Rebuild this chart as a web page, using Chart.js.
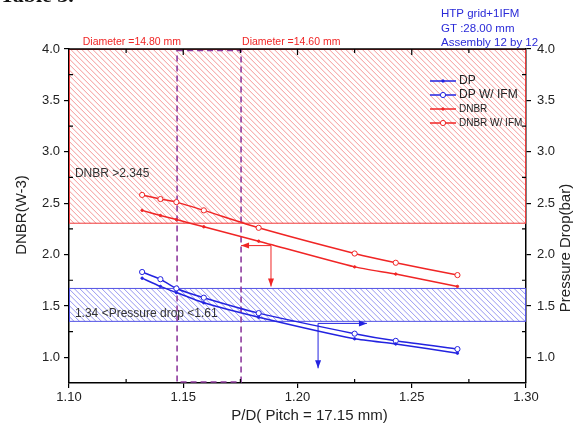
<!DOCTYPE html>
<html>
<head>
<meta charset="utf-8">
<script src="https://cdn.jsdelivr.net/npm/chart.js@4.4.1/dist/chart.umd.min.js"></script>
<style>
    html, body { margin: 0; padding: 0; background: #fff; }
    #wrap { position: relative; width: 579px; height: 428px; overflow: hidden; }
    #cut { position: absolute; left: 0; top: -18px; font: bold 22px "Liberation Serif", serif; color: #111; }
</style>
</head>
<body>
<div id="wrap">
    <canvas id="chart" width="579" height="428"></canvas>
    <div id="cut">Table 3.</div>
</div>
<script>
// P/D values (x) and the four series
const pitchRatio = [1.132, 1.140, 1.147, 1.159, 1.183, 1.225, 1.243, 1.270];
const dp = [1.77, 1.69, 1.63, 1.53, 1.39, 1.18, 1.13, 1.04];
const dpIfm = [1.83, 1.76, 1.67, 1.58, 1.43, 1.23, 1.16, 1.08];
const dnbr = [2.43, 2.38, 2.34, 2.27, 2.13, 1.88, 1.81, 1.69];
const dnbrIfm = [2.58, 2.54, 2.51, 2.43, 2.26, 2.01, 1.92, 1.80];

const seriesNames = ['DP', 'DP W/ IFM', 'DNBR', 'DNBR W/ IFM'];

// hatched limit bands [low, high]
const dnbrBand = [2.30, 4.0];
const dpBand = [1.345, 1.675];

// dashed diameter window (P/D)
const diameterWindow = [1.1473, 1.1753];
const diameterLabels = ['Diameter =14.80 mm', 'Diameter =14.60 mm'];

// arrows: [x0, y0, x1, y1, axis]
const redArrows = [[1.1884, 2.087, 1.1753, 2.087, 'y'], [1.1884, 2.087, 1.1884, 1.689, 'y']];
const blueArrows = [[1.209, 1.330, 1.2304, 1.330, 'y1'], [1.209, 1.330, 1.209, 0.893, 'y1']];

const infoLines = ['HTP grid+1IFM', 'GT :28.00 mm', 'Assembly 12 by 12'];

const xMinor = [1.125, 1.175, 1.225, 1.275];
const yMinor = [1.25, 1.75, 2.25, 2.75, 3.25, 3.75];
const xMajor = [1.15, 1.20, 1.25];

const BLUE = '#2323e0';
const RED = '#f02525';
const PURPLE = '#8e3a9e';

Chart.defaults.font.family = '"Liberation Sans", Arial, sans-serif';

const toPoints = (ys) => ys.map((v, i) => ({ x: pitchRatio[i], y: v }));

function hatchBand(ctx, area, scale, band, lineColor, edgeColor) {
    const top = scale.getPixelForValue(band[1]);
    const bottom = scale.getPixelForValue(band[0]);
    const h = bottom - top;
    ctx.save();
    ctx.beginPath();
    ctx.rect(area.left, top, area.width, h);
    ctx.clip();
    ctx.strokeStyle = lineColor;
    ctx.lineWidth = 0.9;
    ctx.beginPath();
    for (let k = area.left - h; k < area.right; k += 5.5) {
        ctx.moveTo(k, top);
        ctx.lineTo(k + h, bottom);
    }
    ctx.stroke();
    ctx.restore();
    ctx.save();
    ctx.strokeStyle = edgeColor;
    ctx.lineWidth = 1;
    ctx.strokeRect(area.left + 0.5, top + 0.5, area.width - 1, h - 1);
    ctx.restore();
}

function arrow(ctx, chart, a, color) {
    const xs = chart.scales.x, ys = chart.scales[a[4]];
    const x0 = xs.getPixelForValue(a[0]), y0 = ys.getPixelForValue(a[1]);
    const x1 = xs.getPixelForValue(a[2]), y1 = ys.getPixelForValue(a[3]);
    const ang = Math.atan2(y1 - y0, x1 - x0);
    ctx.save();
    ctx.strokeStyle = color;
    ctx.fillStyle = color;
    ctx.lineWidth = 1;
    ctx.beginPath();
    ctx.moveTo(x0, y0);
    ctx.lineTo(x1, y1);
    ctx.stroke();
    ctx.translate(x1, y1);
    ctx.rotate(ang);
    ctx.beginPath();
    ctx.moveTo(0, 0);
    ctx.lineTo(-8, -3);
    ctx.lineTo(-8, 3);
    ctx.closePath();
    ctx.fill();
    ctx.restore();
}

const decor = {
    id: 'decor',
    beforeDatasetsDraw(chart) {
        const { ctx, chartArea: a, scales: { x, y, y1 } } = chart;
        hatchBand(ctx, a, y, dnbrBand, '#f48c8c', '#f03a3a');
        hatchBand(ctx, a, y1, dpBand, '#8a8aee', '#5252e4');

        // purple dashed window
        const xl = x.getPixelForValue(diameterWindow[0]);
        const xr = x.getPixelForValue(diameterWindow[1]);
        ctx.save();
        ctx.strokeStyle = PURPLE;
        ctx.lineWidth = 1.6;
        ctx.setLineDash([6, 4]);
        ctx.strokeRect(xl, a.top + 1.5, xr - xl, a.bottom - a.top - 2.5);
        ctx.restore();

        // region texts
        ctx.save();
        ctx.fillStyle = '#333';
        ctx.font = '12px "Liberation Sans", Arial, sans-serif';
        ctx.textBaseline = 'middle';
        ctx.fillText('DNBR >2.345', x.getPixelForValue(1.1026), y.getPixelForValue(2.786));
        ctx.fillText('1.34 <Pressure drop <1.61', x.getPixelForValue(1.1026), y1.getPixelForValue(1.427));
        ctx.restore();
    },
    afterDatasetsDraw(chart) {
        const { ctx, chartArea: a, scales: { x, y } } = chart;
        redArrows.forEach((r) => arrow(ctx, chart, r, RED));
        blueArrows.forEach((b) => arrow(ctx, chart, b, BLUE));

        // legend inside plot
        ctx.save();
        const lx = a.right - 96;
        chart.data.datasets.forEach((ds, i) => {
            const ly = a.top + 32 + i * 14;
            ctx.strokeStyle = ds.borderColor;
            ctx.lineWidth = 1.5;
            ctx.beginPath();
            ctx.moveTo(lx, ly);
            ctx.lineTo(lx + 26, ly);
            ctx.stroke();
            ctx.beginPath();
            ctx.arc(lx + 13, ly, ds.pointRadius, 0, Math.PI * 2);
            ctx.fillStyle = ds.pointBackgroundColor;
            ctx.fill();
            ctx.lineWidth = 1;
            ctx.stroke();
            ctx.fillStyle = '#222';
            ctx.font = (i < 2 ? '12px' : '10px') + ' "Liberation Sans", Arial, sans-serif';
            ctx.textBaseline = 'middle';
            ctx.fillText(ds.label, lx + 29, ly);
        });
        ctx.restore();

        // frame top and minor ticks
        ctx.save();
        ctx.strokeStyle = '#000';
        ctx.lineWidth = 1.5;
        ctx.beginPath();
        ctx.moveTo(a.left, a.top);
        ctx.lineTo(a.right, a.top);
        ctx.stroke();
        ctx.lineWidth = 1.2;
        ctx.beginPath();
        xMinor.forEach((v) => {
            const px = x.getPixelForValue(v);
            ctx.moveTo(px, a.bottom); ctx.lineTo(px, a.bottom - 4);
            ctx.moveTo(px, a.top); ctx.lineTo(px, a.top + 4);
        });
        xMajor.forEach((v) => {
            const px = x.getPixelForValue(v);
            ctx.moveTo(px, a.top); ctx.lineTo(px, a.top + 6);
        });
        yMinor.forEach((v) => {
            const py = y.getPixelForValue(v);
            ctx.moveTo(a.left, py); ctx.lineTo(a.left + 4, py);
            ctx.moveTo(a.right, py); ctx.lineTo(a.right - 4, py);
        });
        ctx.stroke();
        ctx.restore();

        // texts outside plot
        ctx.save();
        ctx.fillStyle = RED;
        ctx.font = '10.5px "Liberation Sans", Arial, sans-serif';
        ctx.textBaseline = 'middle';
        ctx.textAlign = 'right';
        ctx.fillText(diameterLabels[0], x.getPixelForValue(diameterWindow[0]) + 4, a.top - 7);
        ctx.textAlign = 'left';
        ctx.fillText(diameterLabels[1], x.getPixelForValue(diameterWindow[1]) + 1, a.top - 7);
        ctx.fillStyle = '#2a2ad8';
        ctx.font = '11.5px "Liberation Sans", Arial, sans-serif';
        infoLines.forEach((t, i) => ctx.fillText(t, 441, 14 + i * 14.5));

        ctx.fillStyle = '#222';
        ctx.font = '15px "Liberation Sans", Arial, sans-serif';
        ctx.textAlign = 'center';
        ctx.fillText('P/D( Pitch = 17.15 mm)', (a.left + a.right) / 2 + 12, 416);
        ctx.save();
        ctx.translate(22, 215);
        ctx.rotate(-Math.PI / 2);
        ctx.fillText('DNBR(W-3)', 0, 0);
        ctx.restore();
        ctx.save();
        ctx.translate(566, 248);
        ctx.rotate(-Math.PI / 2);
        ctx.fillText('Pressure Drop(bar)', 0, 0);
        ctx.restore();
        ctx.restore();
    },
};

const axisGrid = { drawOnChartArea: false, color: '#000', tickLength: 5, lineWidth: 1.2 };
const axisBorder = { color: '#000', width: 1.5 };
const tickFont = { size: 13 };

new Chart(document.getElementById('chart'), {
    type: 'line',
    data: {
        datasets: [
            { label: seriesNames[0], data: toPoints(dp), yAxisID: 'y1', borderColor: BLUE, pointBackgroundColor: BLUE, pointRadius: 1.2 },
            { label: seriesNames[1], data: toPoints(dpIfm), yAxisID: 'y1', borderColor: BLUE, pointBackgroundColor: '#fff', pointRadius: 2.6 },
            { label: seriesNames[2], data: toPoints(dnbr), yAxisID: 'y', borderColor: RED, pointBackgroundColor: RED, pointRadius: 1.2 },
            { label: seriesNames[3], data: toPoints(dnbrIfm), yAxisID: 'y', borderColor: RED, pointBackgroundColor: '#fff', pointRadius: 2.6 },
        ].map((d) => ({ ...d, borderWidth: 1.5, pointBorderWidth: 1, pointBorderColor: d.borderColor, tension: 0.2 })),
    },
    options: {
        responsive: false,
        animation: false,
        layout: { padding: { top: 49, left: 0, right: 0, bottom: 0 } },
        plugins: { legend: { display: false }, tooltip: { enabled: false } },
        scales: {
            x: {
                type: 'linear',
                min: 1.10,
                max: 1.30,
                ticks: { stepSize: 0.05, callback: (v) => v.toFixed(2), font: tickFont, color: '#222', padding: 2 },
                grid: axisGrid,
                border: axisBorder,
                afterFit: (s) => { s.height = 45; },
            },
            y: {
                position: 'left',
                min: 0.75,
                max: 4.0,
                ticks: { stepSize: 0.5, includeBounds: false, callback: (v) => v.toFixed(1), font: tickFont, color: '#222', padding: 4 },
                grid: axisGrid,
                border: axisBorder,
                afterFit: (s) => { s.width = 69; },
            },
            y1: {
                position: 'right',
                min: 0.75,
                max: 4.0,
                ticks: { stepSize: 0.5, includeBounds: false, callback: (v) => v.toFixed(1), font: tickFont, color: '#222', padding: 6 },
                grid: axisGrid,
                border: axisBorder,
                afterFit: (s) => { s.width = 53; },
            },
        },
    },
    plugins: [decor],
});
</script>
</body>
</html>
